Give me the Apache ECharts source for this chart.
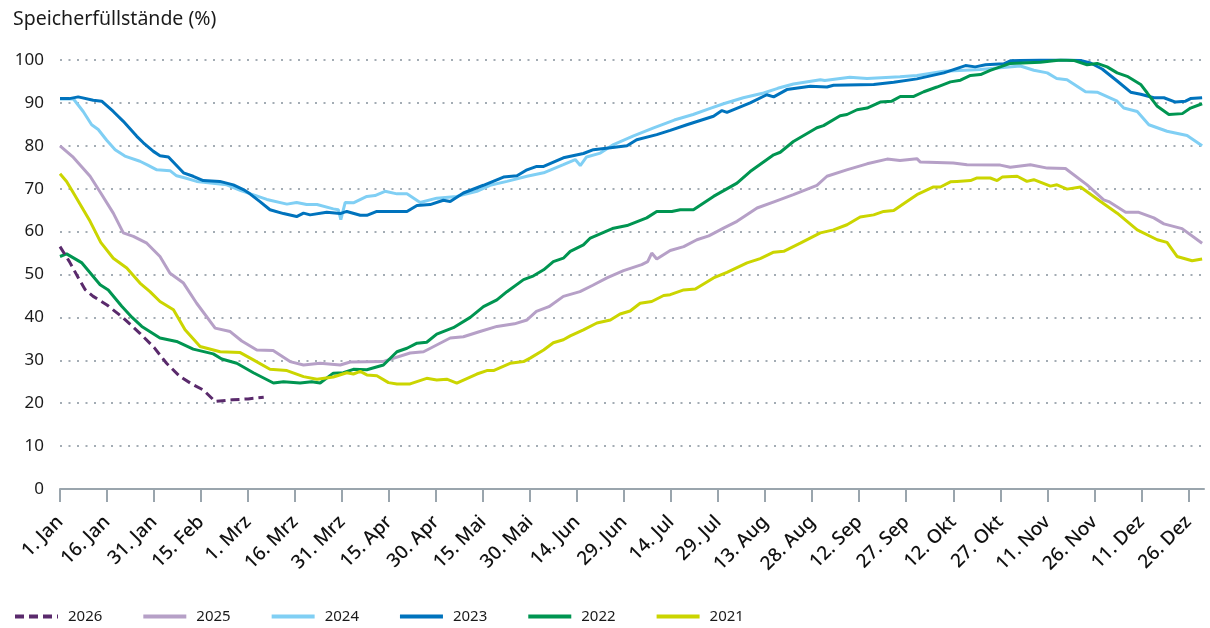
<!DOCTYPE html>
<html><head><meta charset="utf-8">
<script src="https://cdn.jsdelivr.net/npm/echarts@6/dist/echarts.min.js"></script>
<style>html,body{margin:0;padding:0;background:#fff}#c{width:1210px;height:628px}</style>
</head><body><div id="c"></div>
<script>
const tickDays = [0,15,30,45,60,75,90,105,120,135,150,165,180,195,210,225,240,255,270,285,300,315,330,345,360];
const tickLabels = ['1. Jan','16. Jan','31. Jan','15. Feb','1. Mrz','16. Mrz','31. Mrz','15. Apr','30. Apr','15. Mai','30. Mai','14. Jun','29. Jun','14. Jul','29. Jul','13. Aug','28. Aug','12. Sep','27. Sep','12. Okt','27. Okt','11. Nov','26. Nov','11. Dez','26. Dez'];
const yTicks = [0,10,20,30,40,50,60,70,80,90,100];

const s2026 = [[0,56.5],[3,53],[6,49],[8,46.5],[10.6,44.9],[15,42.9],[20,40],[25.5,36.3],[30,33],[34,29.3],[38.3,26.2],[42,24.5],[45.7,23.1],[49.5,20.4],[55,20.8],[60,21],[65,21.4]];
const s2025 = [[0,80],[4,77.5],[9.6,72.9],[13,69],[17,64.3],[20.2,59.7],[23.4,58.9],[27.7,57.3],[31.9,54.2],[35.1,50.3],[39.4,48],[43.6,43.3],[49.5,37.5],[54.3,36.7],[58,34.5],[62.8,32.4],[68,32.3],[73.4,29.7],[77.7,28.9],[83,29.3],[89.4,28.9],[92.6,29.6],[103,29.7],[111.7,31.7],[116,32],[124.5,35.2],[128.7,35.5],[134,36.7],[139.4,37.9],[145,38.5],[149,39.4],[152,41.4],[156,42.5],[160.6,44.9],[165.9,46],[170,47.5],[174.5,49.2],[179.8,50.9],[185.6,52.3],[187.5,53],[188.8,55],[190.4,53.6],[194.7,55.6],[199,56.5],[203.2,58.1],[207,59],[211.7,60.8],[216,62.4],[222.4,65.5],[228,67],[234,68.6],[241.5,70.8],[244.7,72.9],[251,74.4],[257.5,75.8],[263.9,76.9],[268,76.6],[273.4,77],[274.5,76.2],[285,76],[289.4,75.6],[300,75.5],[303.2,75],[309.6,75.6],[315,74.8],[320.8,74.7],[327.7,70.9],[333,67.4],[334.6,67],[340,64.5],[344.2,64.5],[349,63.2],[352.2,61.8],[358,60.7],[364.4,57.3]];
const s2024 = [[0,90.9],[4.3,90.9],[7.4,88],[10.1,84.9],[12.2,83.8],[14.9,81.3],[17.6,79.1],[20.7,77.6],[25.5,76.4],[28,75.5],[30.9,74.4],[35.1,74.2],[37.2,73],[40,72.5],[43.6,71.7],[53.2,70.9],[57.5,69.6],[62,68.5],[66,67.5],[72.4,66.4],[75.5,66.8],[78.7,66.3],[82,66.3],[87.2,65.3],[88.8,65.1],[89.6,62.8],[91,66.8],[93.6,66.7],[97.9,68.2],[100.5,68.4],[103.7,69.4],[107.5,68.8],[110.7,68.8],[114.9,66.8],[120.2,67.8],[126.6,68.2],[133,69.4],[137.2,70.8],[142.6,71.7],[149,72.9],[154.3,73.7],[160.6,75.6],[164.4,76.8],[166,75.4],[168,77.4],[172.4,78.3],[176.6,80.3],[183,82.3],[189.4,84.2],[196,86],[202,87.3],[207,88.6],[211.7,89.8],[218,91.2],[224.5,92.3],[229,93.4],[234,94.4],[242.6,95.4],[244,95.2],[252,96],[257.5,95.7],[268,96.1],[273.4,96.4],[282,97.4],[293.6,97.8],[306.4,98.6],[310.7,97.6],[315,97],[318,95.7],[321.3,95.4],[327.2,92.6],[330.9,92.5],[337.3,90.4],[339.4,88.8],[343.7,88],[347.4,84.9],[353.2,83.4],[359.6,82.4],[364.4,80]];
const s2023 = [[0,91],[3,91],[5.8,91.4],[10.6,90.6],[13.3,90.4],[17,88],[20.2,85.7],[24.5,82.2],[26.6,80.7],[29.8,78.7],[31.9,77.7],[34.6,77.4],[39.4,73.7],[42.5,72.9],[45.7,71.9],[51,71.7],[55.3,70.9],[58.5,69.8],[60.6,68.8],[63.8,67],[67,65.1],[71.3,64.2],[75.5,63.5],[77.7,64.3],[79.8,63.9],[85.1,64.5],[89.4,64.2],[91.5,64.7],[95.8,63.8],[97.9,63.8],[101.1,64.7],[105.3,64.7],[110.7,64.7],[113.9,66.1],[118.1,66.3],[122.3,67.3],[124.5,67],[128.7,69],[135.1,70.8],[141.5,72.7],[145.8,73],[149,74.4],[152.1,75.2],[154.3,75.2],[160.6,77.2],[167,78.2],[170.2,79.1],[175,79.5],[180.9,80],[184,81.4],[190.4,82.6],[194.7,83.6],[200,84.9],[208.5,86.9],[211.2,88.2],[212.8,87.8],[220.2,90],[225.5,91.9],[227.7,91.4],[231.9,93.1],[239.4,93.9],[244.7,93.7],[246.8,94.1],[259.6,94.3],[266,94.8],[273.4,95.6],[282,97],[288.9,98.7],[292,98.4],[295.3,98.9],[301.1,99.1],[303.2,99.8],[312.8,100],[321.3,100],[325.6,99.9],[328.8,99.3],[332.5,97.9],[337.3,95.1],[341.6,92.5],[344.8,92],[349,91.2],[352.2,91.2],[355.9,90.2],[359.1,90.4],[360.7,91],[364.4,91.2]];
const s2022 = [[0,54.2],[2.1,54.8],[7,52.7],[12.8,47.6],[15.4,46.4],[19.7,42.6],[23,40],[26.1,37.9],[31.9,35.2],[37.2,34.4],[42.5,32.6],[48.9,31.5],[51.6,30.3],[56.4,29.3],[61.7,27.1],[68.1,24.7],[71.3,25],[76.6,24.7],[80.3,25],[83,24.7],[87.2,27],[90.4,27.1],[93.6,27.9],[97.9,27.8],[103.2,28.9],[107.5,32],[110.7,32.8],[113.9,34],[117,34.2],[120.2,36.1],[125.5,37.6],[130.9,40],[135.1,42.5],[139.4,44.1],[142.6,46],[147.9,48.8],[151.1,49.7],[154.3,51.1],[157.4,53],[160.6,53.8],[162.8,55.4],[167,56.9],[169.2,58.5],[176.6,60.8],[180.9,61.4],[187.2,63.2],[190.4,64.7],[195.2,64.7],[197.9,65.1],[202.1,65.1],[208.5,68.2],[216,71.3],[220.2,74],[227.7,77.9],[229.8,78.5],[234,81],[241.5,84.2],[243.6,84.7],[248.9,87],[251.1,87.3],[254.3,88.4],[257.5,88.8],[261.7,90.2],[265.4,90.4],[268.1,91.5],[272.4,91.5],[275.6,92.6],[279.8,93.7],[284.1,94.9],[287.3,95.3],[290.5,96.4],[293.7,96.6],[296.8,97.6],[303.2,99.2],[312.8,99.5],[319.2,100],[323.4,99.9],[327.7,98.9],[330.9,99.2],[334.1,98.4],[337.3,97],[340.5,96.2],[344.8,94.3],[346.9,92.3],[350.1,89.2],[353.8,87.3],[358.1,87.5],[360.7,88.8],[364.4,89.8]];
const s2021 = [[0,73.5],[2.1,71.7],[4.3,69],[9.6,62.4],[13,57.5],[17,53.8],[21.3,51.5],[25.5,48],[28.7,46],[31.9,43.7],[36.2,41.8],[39.9,37.1],[44.7,33.2],[51.1,32],[57.5,31.8],[61.7,30.1],[67,27.9],[72.4,27.6],[77.7,26.2],[82,25.6],[87.2,26.1],[91.5,27.1],[93.6,26.8],[95.8,27.4],[97.9,26.6],[101.1,26.4],[104.8,24.8],[107.5,24.5],[111.7,24.5],[117,25.8],[120.2,25.4],[123.4,25.6],[126.6,24.7],[133,26.8],[136.2,27.6],[138.3,27.6],[143.6,29.3],[147.9,29.7],[150,30.5],[154.3,32.4],[157.4,34.1],[160.6,34.8],[162.8,35.7],[167,37.1],[171.3,38.7],[175.6,39.4],[178.7,40.8],[181.9,41.5],[185.1,43.3],[188.8,43.7],[192.6,45.1],[194.7,45.3],[199,46.4],[202.7,46.6],[208.5,49.2],[212.8,50.5],[219.2,52.7],[223.4,53.7],[227.7,55.2],[230.9,55.4],[236.2,57.3],[242.6,59.7],[246.8,60.4],[251.1,61.6],[255.3,63.4],[259.6,63.9],[262.8,64.7],[266,64.9],[270.2,67],[273.4,68.6],[278.7,70.4],[280.9,70.4],[284.1,71.6],[286.2,71.7],[290.5,71.9],[292.6,72.5],[296.8,72.5],[299,71.9],[300.6,72.7],[305.4,72.9],[308.5,71.7],[310.7,72.1],[316,70.6],[318.1,70.9],[321.3,69.9],[325.6,70.4],[332,67],[337.3,64.3],[343.7,60.4],[350.1,58.1],[353.2,57.5],[356.4,54.2],[361.2,53.2],[364.4,53.6]];

const seriesNames = ['2026','2025','2024','2023','2022','2021'];
const seriesData = [s2026, s2025, s2024, s2023, s2022, s2021];
const seriesColors = ['#5a2a6c','#b6a0c7','#80cff4','#0073bd','#009551','#cbd500'];

const FONT = 'Noto Sans';
const chart = echarts.init(document.getElementById('c'), null, {renderer:'canvas'});
const series = seriesNames.map((n,i)=>({
  name:n, type:'line', data:seriesData[i], symbol:'none', smooth:false,
  z: i===0 ? 10 : 2,
  lineStyle:{color:seriesColors[i], width:3, type: i===0 ? [9,5] : 'solid'},
  itemStyle:{color:seriesColors[i]},
  emphasis:{disabled:true}
}));
chart.setOption({
  animation:false,
  textStyle:{fontFamily:FONT},
  title:{text:'Speicherfüllstände (%)', left:8, top:4, textStyle:{fontFamily:FONT, fontSize:19.5, fontWeight:'normal', color:'#1a1a1a'}},
  grid:{left:60, right:6, top:60, bottom:139, containLabel:false},
  legend:{left:8, top:604, itemWidth:43, itemHeight:14, itemGap:39, data:seriesNames,
    itemStyle:{opacity:0},
    textStyle:{fontFamily:FONT, fontSize:15, color:'#1a1a1a', padding:[0,0,0,5]},
    lineStyle:{width:4}},
  xAxis:{type:'value', min:0, max:365,
    axisLine:{show:true, lineStyle:{color:'#9aa5ad', width:2}},
    axisTick:{show:true, customValues:tickDays, length:13, lineStyle:{color:'#9aa5ad', width:2}},
    axisLabel:{customValues:tickDays, rotate:45, margin:30, fontFamily:FONT, fontSize:19, fontWeight:500, color:'#111',
      formatter:v=>tickLabels[tickDays.indexOf(v)]},
    splitLine:{show:false}},
  yAxis:{type:'value', min:0, max:100, interval:10,
    axisLine:{show:false}, axisTick:{show:false},
    axisLabel:{fontFamily:FONT, fontSize:17, color:'#1a1a1a', margin:16},
    splitLine:{show:true, lineStyle:{color:'#a3acb4', width:2, type:[2,6.5]}}},
  series: series
});
</script></body></html>
